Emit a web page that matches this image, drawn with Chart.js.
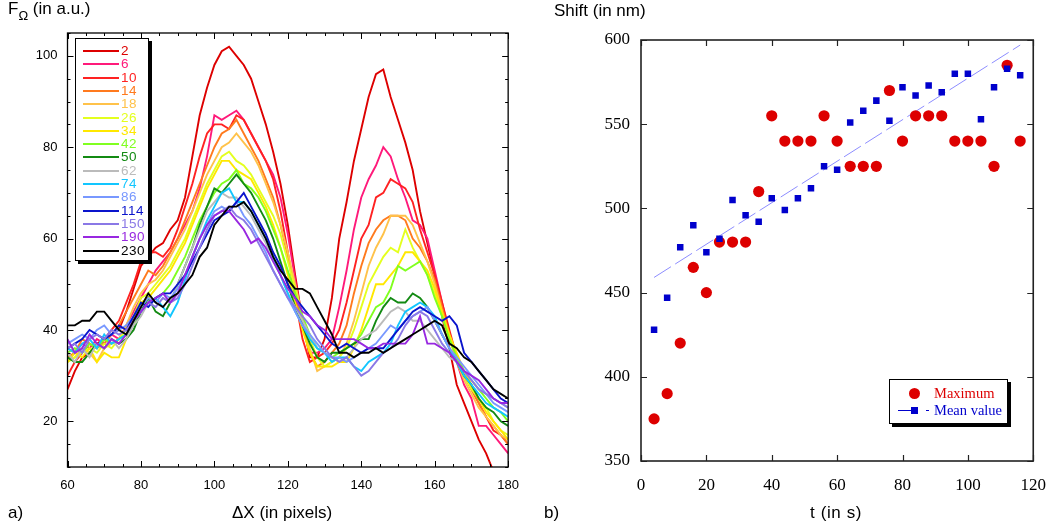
<!DOCTYPE html>
<html>
<head>
<meta charset="utf-8">
<script src="https://cdn.jsdelivr.net/npm/chart.js@4.4.0/dist/chart.umd.min.js"></script>
<style>
  body { margin: 0; background: #fff; width: 1060px; height: 530px; position: relative; overflow: hidden;
         font-family: "Liberation Sans", Arial, sans-serif; color: #000; }
  .pane { position: absolute; top: 0; width: 530px; height: 530px; }
  .txt { position: absolute; white-space: nowrap; font-size: 17px; }
  .legA { position: absolute; left: 75px; top: 38px; width: 72px; height: 221px; border: 1px solid #000;
          box-shadow: 3px 3px 0 #000; background: #fff; }
  .legA .row { position: absolute; left: 0; height: 14px; width: 72px; }
  .legA .ln { position: absolute; left: 7px; top: 6px; width: 36px; height: 2px; }
  .legA .lb { position: absolute; left: 45px; top: -1px; font-size: 13.5px; letter-spacing: 0.5px; white-space: nowrap; }
  .legB { position: absolute; left: 889px; top: 379px; width: 117px; height: 43px; border: 1px solid #000;
          box-shadow: 3px 3px 0 #000; background: #fff; font-family: "Liberation Serif", "Times New Roman", serif; font-size: 14.5px; }
  .legB span { position: absolute; white-space: nowrap; }
</style>
</head>
<body>
<div class="pane" style="left:0"><canvas id="chartA"></canvas></div>
<div class="pane" style="left:530px"><canvas id="chartB"></canvas></div>

<div class="txt" style="left:8px;top:-1px">F<span style="font-size:13px;position:relative;top:6px">Ω</span> (in a.u.)</div>
<div class="txt" style="left:232px;top:503px">ΔX (in pixels)</div>
<div class="txt" style="left:8px;top:503px">a)</div>
<div class="txt" style="left:554px;top:1px">Shift (in nm)</div>
<div class="txt" style="left:810px;top:503px;letter-spacing:0.6px">t (in s)</div>
<div class="txt" style="left:544px;top:503px">b)</div>

<div class="legA" id="legA"></div>
<div class="legB" id="legB"></div>

<script>
// ---- panel a) : profiles F_Omega vs delta X, one curve per time label
var dx = [60, 62, 64, 66, 68, 70, 72, 74, 76, 78,
          80, 82, 84, 86, 88, 90, 92, 94, 96, 98,
          100, 102, 104, 106, 108, 110, 112, 114, 116, 118,
          120, 122, 124, 126, 128, 130, 132, 134, 136, 138,
          140, 142, 144, 146, 148, 150, 152, 154, 156, 158,
          160, 162, 164, 166, 168, 170, 172, 174, 176, 178,
          180];

var s2 = [27, 31, 34, 35, 37, 38, 39, 40, 44, 49,
          54, 56, 58, 59, 62, 64, 69, 78, 87, 93,
          98, 101, 102, 100, 98, 95, 90, 85, 79, 72,
          63, 52, 42, 34, 34, 38, 47, 60, 68, 77,
          84, 91, 96, 97, 91, 86, 81, 75, 66, 59,
          52, 43, 36, 28, 24, 20, 16, 13, 9, 6,
          3];
var s6 = [36, 35, 37, 36, 38, 37, 39, 38, 41, 44,
          47, 50, 53, 55, 57, 60, 63, 66, 71, 78,
          87, 86, 87, 88, 86, 83, 80, 77, 74, 69,
          61, 51, 41, 35, 35, 36, 38, 45, 53, 62,
          69, 73, 76, 80, 78, 73, 69, 64, 63, 60,
          53, 46, 39, 33, 28, 25, 19, 19, 17, 15,
          13];
var s10 = [30, 33, 35, 37, 36, 38, 40, 42, 46, 50,
           55, 57, 57, 56, 58, 62, 67, 72, 78, 83,
           85, 85, 84, 87, 86, 83, 80, 77, 73, 66,
           57, 47, 38, 33, 34, 35, 37, 40, 46, 53,
           60, 63, 69, 70, 73, 72, 71, 68, 62, 57,
           52, 46, 40, 34, 30, 27, 24, 21, 18, 17,
           15];
var s14 = [34, 35, 38, 37, 36, 37, 39, 41, 44, 47,
           50, 53, 52, 54, 57, 60, 64, 68, 72, 76,
           80, 83, 84, 86, 83, 80, 77, 73, 69, 63,
           56, 48, 41, 35, 32, 33, 35, 37, 41, 48,
           54, 59, 62, 64, 65, 65, 64, 60, 58, 55,
           51, 45, 39, 34, 30, 27, 24, 21, 19, 17,
           15];
var s18 = [33, 34, 36, 35, 33, 36, 37, 38, 41, 45,
           48, 50, 51, 53, 56, 59, 62, 66, 70, 74,
           77, 80, 81, 83, 81, 79, 76, 72, 68, 63,
           57, 50, 43, 36, 31, 32, 33, 34, 37, 42,
           48, 54, 58, 61, 65, 65, 65, 63, 59, 55,
           50, 44, 38, 33, 29, 26, 23, 21, 19, 17,
           16];
var s26 = [33, 34, 35, 36, 35, 37, 36, 38, 40, 43,
           47, 48, 50, 52, 54, 57, 60, 64, 68, 72,
           75, 78, 79, 77, 76, 74, 71, 68, 65, 61,
           55, 49, 43, 38, 34, 32, 33, 34, 36, 40,
           45, 50, 53, 56, 58, 57, 62, 58, 55, 52,
           48, 43, 38, 34, 30, 27, 25, 23, 20, 18,
           17];
var s34 = [33, 35, 34, 36, 33, 35, 34, 34, 38, 42,
           46, 47, 49, 51, 53, 56, 59, 63, 67, 71,
           74, 77, 77, 75, 74, 73, 70, 67, 63, 58,
           52, 46, 40, 35, 32, 32, 32, 33, 33, 36,
           40, 45, 50, 50, 52, 54, 57, 57, 55, 53,
           49, 44, 39, 35, 31, 28, 25, 22, 20, 18,
           16];
var s42 = [35, 36, 35, 37, 36, 38, 37, 38, 39, 41,
           44, 46, 47, 48, 50, 53, 56, 60, 64, 67,
           70, 72, 73, 75, 72, 71, 69, 66, 62, 58,
           53, 48, 43, 39, 36, 35, 34, 35, 36, 37,
           39, 42, 45, 46, 49, 54, 53, 54, 55, 52,
           47, 43, 38, 34, 31, 29, 27, 25, 23, 22,
           20];
var s50 = [34, 33, 33, 35, 37, 36, 38, 37, 38, 40,
           44, 47, 44, 43, 46, 50, 54, 58, 63, 67,
           71, 70, 72, 74, 72, 70, 67, 64, 60, 55,
           50, 45, 41, 37, 34, 33, 35, 35, 36, 37,
           38, 38, 42, 45, 47, 46, 46, 48, 47, 45,
           42, 39, 36, 33, 30, 28, 25, 23, 22, 20,
           19];
var s62 = [35, 33, 36, 34, 37, 36, 38, 36, 38, 41,
           43, 46, 45, 47, 46, 50, 54, 58, 62, 66,
           68, 70, 69, 69, 67, 65, 62, 59, 55, 52,
           48, 45, 42, 39, 36, 35, 34, 33, 34, 36,
           38, 39, 40, 42, 44, 45, 44, 42, 42, 40,
           38, 36, 34, 33, 31, 29, 27, 26, 25, 24,
           23];
var s74 = [36, 35, 37, 38, 36, 39, 37, 38, 39, 42,
           44, 46, 47, 45, 43, 46, 51, 56, 60, 64,
           67, 70, 71, 68, 68, 66, 63, 60, 56, 52,
           48, 44, 41, 38, 36, 35, 33, 34, 34, 32,
           31, 33, 34, 35, 37, 41, 44, 45, 46, 45,
           43, 39, 36, 33, 30, 28, 26, 24, 23, 22,
           21];
var s86 = [37, 38, 39, 38, 40, 41, 39, 40, 41, 43,
           45, 47, 46, 48, 47, 49, 52, 56, 60, 63,
           66, 67, 66, 68, 65, 63, 60, 57, 53, 50,
           47, 44, 41, 39, 37, 35, 34, 34, 33, 34,
           35, 36, 37, 39, 41, 40, 42, 43, 44, 45,
           42, 39, 36, 34, 32, 30, 28, 26, 24, 23,
           22];
var s114 = [36, 37, 38, 40, 39, 38, 39, 41, 40, 43,
            46, 45, 47, 48, 48, 50, 52, 55, 58, 61,
            64, 65, 66, 68, 70, 67, 64, 61, 57, 54,
            50, 47, 45, 43, 41, 39, 37, 36, 37, 36,
            35, 36, 36, 36, 38, 40, 42, 44, 45, 44,
            43, 42, 43, 41, 35, 33, 31, 29, 27, 25,
            24];
var s150 = [36, 37, 35, 38, 39, 38, 40, 39, 40, 42,
            44, 46, 45, 47, 46, 47, 50, 54, 58, 62,
            65, 66, 67, 65, 64, 62, 59, 56, 53, 50,
            47, 45, 43, 41, 38, 36, 34, 33, 34, 32,
            30, 31, 33, 35, 36, 38, 41, 43, 44, 43,
            40, 37, 35, 33, 31, 29, 27, 26, 25, 24,
            23];
var s190 = [38, 35, 36, 39, 37, 36, 38, 37, 39, 42,
            44, 46, 47, 48, 46, 48, 52, 56, 60, 63,
            65, 66, 66, 64, 62, 59, 60, 58, 55, 52,
            49, 47, 44, 43, 41, 40, 38, 38, 38, 38,
            37, 36, 36, 37, 37, 37, 37, 39, 43, 37,
            37, 36, 35, 33, 31, 30, 29, 27, 25, 24,
            24];
var s230 = [41, 41, 42, 42, 44, 44, 42, 40, 39, 42,
            45, 48, 46, 45, 47, 48, 50, 52, 56, 58,
            63, 65, 67, 67, 68, 66, 63, 60, 56, 53,
            51, 49, 49, 48, 45, 42, 39, 35, 35, 34,
            35, 35, 36, 35, 36, 37, 38, 39, 40, 41,
            42, 41, 37, 36, 34, 33, 31, 29, 27, 26,
            25];

var profileLabels = ['2', '6', '10', '14', '18', '26', '34', '42', '50', '62', '74', '86', '114', '150', '190', '230'];
var profiles = [s2, s6, s10, s14, s18, s26, s34, s42, s50, s62, s74, s86, s114, s150, s190, s230];
var xTicksA = [60, 80, 100, 120, 140, 160, 180];
var yTicksA = [20, 40, 60, 80, 100];

// ---- panel b) : shift vs time
var tValues = [4, 8, 12, 16, 20, 24, 28, 32, 36, 40, 44, 48, 52, 56, 60,
               64, 68, 72, 76, 80, 84, 88, 92, 96, 100, 104, 108, 112, 116];
var maxShift = [375, 390, 420, 465, 450, 480, 480, 480, 510, 555, 540, 540, 540, 555, 540,
                525, 525, 525, 570, 540, 555, 555, 555, 540, 540, 540, 525, 585, 540];
var meanShift = [428, 447, 477, 490, 474, 482, 505, 496, 492, 506, 499, 506, 512, 525, 523,
                 551, 558, 564, 552, 572, 567, 573, 569, 580, 580, 553, 572, 583, 579];
var fitT = [4, 116];
var fitShift = [459, 597];
var xTicksB = [0, 20, 40, 60, 80, 100, 120];
var yTicksB = [350, 400, 450, 500, 550, 600];

// colours (style only)
var lineColors = ['#dd0000', '#ff1a7a', '#ff2222', '#ff7a1e', '#ffc24a', '#e4ff1e', '#ffe800', '#80ff20',
                  '#138a13', '#bbbbbb', '#12c6ff', '#7898ff', '#0a14cc', '#8a78e6', '#9828e0', '#000000'];
var redDot = '#dd0000';
var blueSq = '#0000cc';
var fitColor = '#8c8cff';

// box round the plot with inward ticks on all four sides
var frameTicks = {
  id: 'frameTicks',
  afterDraw: function(chart, args, o) {
    var ctx = chart.ctx, a = chart.chartArea, sx = chart.scales.x, sy = chart.scales.y;
    ctx.save();
    ctx.strokeStyle = o.color;
    ctx.lineWidth = o.tickWidth;
    ctx.beginPath();
    function xMark(v, len) {
      var p = Math.round(sx.getPixelForValue(v)) + 0.5;
      ctx.moveTo(p, a.bottom); ctx.lineTo(p, a.bottom - len);
      ctx.moveTo(p, a.top); ctx.lineTo(p, a.top + len);
    }
    function yMark(v, len) {
      var p = Math.round(sy.getPixelForValue(v)) + 0.5;
      ctx.moveTo(a.left, p); ctx.lineTo(a.left + len, p);
      ctx.moveTo(a.right, p); ctx.lineTo(a.right - len, p);
    }
    var v;
    if (o.minorX) for (v = sx.min; v <= sx.max; v += o.minorX) xMark(v, o.minor);
    if (o.minorY) for (v = Math.ceil(sy.min / o.minorY) * o.minorY; v <= sy.max; v += o.minorY) yMark(v, o.minor);
    sx.ticks.forEach(function(t) { xMark(t.value, o.major); });
    sy.ticks.forEach(function(t) { yMark(t.value, o.major); });
    ctx.stroke();
    ctx.lineWidth = o.width;
    ctx.strokeRect(a.left, a.top, a.right - a.left, a.bottom - a.top);
    ctx.restore();
  }
};

function fixTicks(list) {
  return function(scale) { scale.ticks = list.map(function(v) { return { value: v }; }); };
}

var sansTicks = { family: '"Liberation Sans", Arial, sans-serif', size: 13 };
var serifTicks = { family: '"Liberation Serif", "Times New Roman", serif', size: 17 };

new Chart(document.getElementById('chartA'), {
  type: 'line',
  data: {
    datasets: profiles.map(function(s, i) {
      return {
        label: profileLabels[i],
        data: dx.map(function(x, j) { return { x: x, y: s[j] }; }),
        borderColor: lineColors[i],
        borderWidth: 1.9,
        pointRadius: 0,
        tension: 0,
        fill: false,
        order: profiles.length - i
      };
    })
  },
  options: {
    responsive: true,
    maintainAspectRatio: false,
    animation: false,
    events: [],
    layout: { padding: { left: 0, top: 33, right: 21, bottom: 0 } },
    plugins: {
      legend: { display: false },
      tooltip: { enabled: false },
      frameTicks: { color: '#000', width: 1.3, tickWidth: 1, major: 6, minor: 3, minorX: 5, minorY: 5 }
    },
    scales: {
      x: {
        type: 'linear', min: 60, max: 180,
        afterBuildTicks: fixTicks(xTicksA),
        afterFit: function(s) { s.height = 63; },
        grid: { display: false, drawTicks: false },
        border: { display: false },
        ticks: { color: '#000', font: sansTicks, padding: 11, maxRotation: 0 }
      },
      y: {
        type: 'linear', min: 10, max: 105,
        afterBuildTicks: fixTicks(yTicksA),
        afterFit: function(s) { s.width = 67.5; },
        grid: { display: false, drawTicks: false },
        border: { display: false },
        ticks: { color: '#000', font: sansTicks, padding: 10 }
      }
    }
  },
  plugins: [frameTicks]
});

new Chart(document.getElementById('chartB'), {
  type: 'scatter',
  data: {
    datasets: [
      {
        label: 'Mean value',
        data: tValues.map(function(t, i) { return { x: t, y: meanShift[i] }; }),
        pointStyle: 'rect', pointRadius: 4.6,
        backgroundColor: blueSq, borderColor: blueSq, borderWidth: 0,
        order: 0
      },
      {
        label: 'Maximum',
        data: tValues.map(function(t, i) { return { x: t, y: maxShift[i] }; }),
        pointStyle: 'circle', pointRadius: 5.6,
        backgroundColor: redDot, borderColor: redDot, borderWidth: 0,
        order: 1
      },
      {
        label: 'fit',
        data: fitT.map(function(t, i) { return { x: t, y: fitShift[i] }; }),
        showLine: true, pointRadius: 0,
        borderColor: fitColor, borderWidth: 1, borderDash: [20, 5],
        order: 2
      }
    ]
  },
  options: {
    responsive: true,
    maintainAspectRatio: false,
    animation: false,
    events: [],
    layout: { padding: { left: 0, top: 40, right: 21, bottom: 0 } },
    plugins: {
      legend: { display: false },
      tooltip: { enabled: false },
      frameTicks: { color: '#222', width: 1.6, tickWidth: 1.2, major: 6, minor: 0 }
    },
    scales: {
      x: {
        type: 'linear', min: 0, max: 120,
        afterBuildTicks: fixTicks(xTicksB),
        afterFit: function(s) { s.height = 69; },
        grid: { display: false, drawTicks: false },
        border: { display: false },
        ticks: { color: '#000', font: serifTicks, padding: 14, maxRotation: 0 }
      },
      y: {
        type: 'linear', min: 350, max: 600,
        afterBuildTicks: fixTicks(yTicksB),
        afterFit: function(s) { s.width = 111; },
        grid: { display: false, drawTicks: false },
        border: { display: false },
        ticks: { color: '#000', font: serifTicks, padding: 11 }
      }
    }
  },
  plugins: [frameTicks]
});

// legend of panel a)
var legA = document.getElementById('legA');
profileLabels.forEach(function(lab, i) {
  var row = document.createElement('div');
  row.className = 'row';
  row.style.top = (5 + i * 13.3) + 'px';
  row.innerHTML = '<div class="ln" style="background:' + lineColors[i] + '"></div>' +
                  '<div class="lb" style="color:' + lineColors[i] + '">' + lab + '</div>';
  legA.appendChild(row);
});

// legend of panel b)
document.getElementById('legB').innerHTML =
  '<span style="left:19px;top:8px;width:11px;height:11px;border-radius:50%;background:' + redDot + '"></span>' +
  '<span style="left:44px;top:5px;color:' + redDot + '">Maximum</span>' +
  '<span style="left:8px;top:30px;width:16px;height:1px;background:' + blueSq + '"></span>' +
  '<span style="left:21px;top:27px;width:7px;height:7px;background:' + blueSq + '"></span>' +
  '<span style="left:36px;top:30px;width:3px;height:1px;background:' + blueSq + '"></span>' +
  '<span style="left:44px;top:22px;color:' + blueSq + '">Mean value</span>';
</script>
</body>
</html>
